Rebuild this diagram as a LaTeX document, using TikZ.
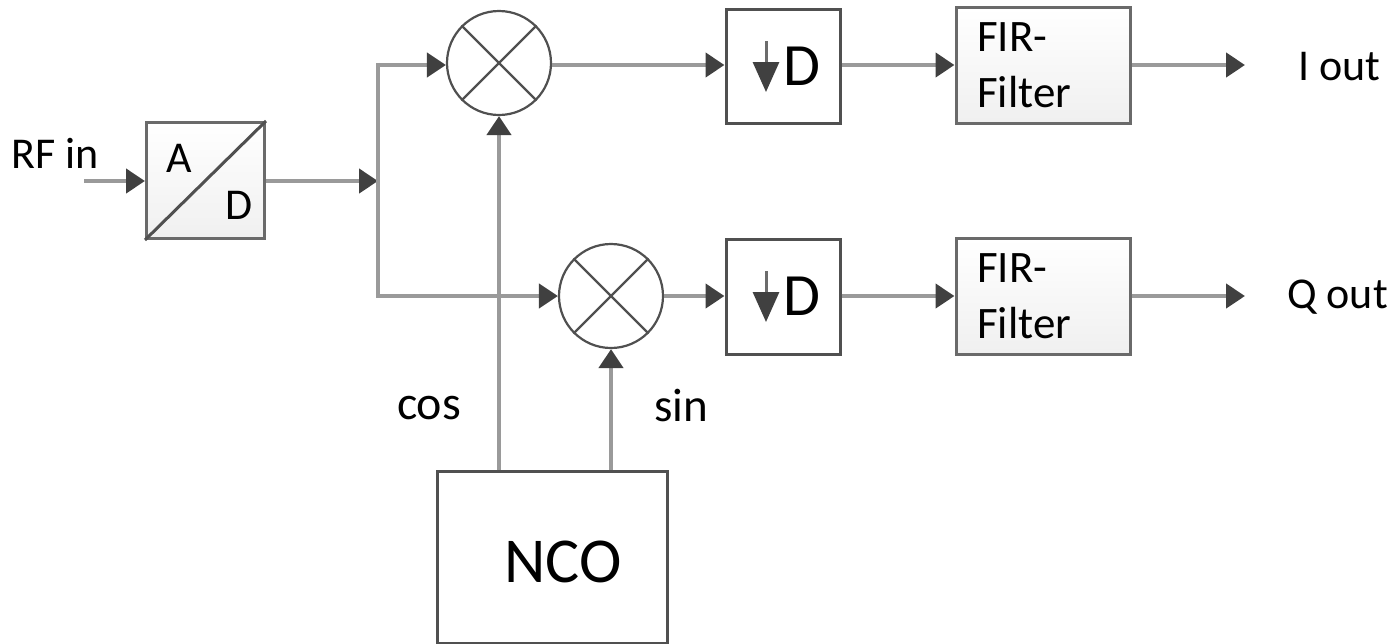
\documentclass[tikz,border=0pt]{standalone}
\usepackage{fontspec}
\setmainfont{Carlito}
\usetikzlibrary{arrows.meta,calc}
\definecolor{wire}{HTML}{9A9A9A}
\definecolor{edge}{HTML}{505050}
\definecolor{tip}{HTML}{404040}
\tikzset{
  wireline/.style={draw=wire,line width=4.2pt,-{Triangle[length=19pt,width=24pt,color=tip]}},
  plainwire/.style={draw=wire,line width=4.2pt},
  shaded box/.style={draw=edge!85!white,line width=3pt,top color=white,bottom color=black!6,minimum width=#1,minimum height=116pt,inner sep=0pt,anchor=north west},
  white box/.style={draw=edge,line width=3pt,fill=white,minimum width=#1,inner sep=0pt,anchor=north west},
  mixer/.style={circle,draw=edge,line width=2.2pt,minimum size=104pt,inner sep=0pt,fill=white},
  label/.style={font=\fontsize{44pt}{44pt}\selectfont,text=black,inner sep=0pt},
  x=1pt,y=-1pt
}
\begin{document}
\begin{tikzpicture}
\useasboundingbox (0,0) rectangle (1398,643);
% blocks
\node[shaded box=118pt] (ad) at (145,121) {};
\node[white box=114pt,minimum height=114pt] (d1) at (724.5,8) {};
\node[white box=114pt,minimum height=115pt] (d2) at (724.5,238) {};
\node[shaded box=174pt] (f1) at (954.5,6) {};
\node[shaded box=174pt] (f2) at (954.5,237) {};
\node[mixer] (m1) at (499,63) {};
\node[mixer] (m2) at (611,296) {};
\node[white box=230pt,minimum height=172pt] (nco) at (435.5,470) {};
% block contents
\draw[draw=edge,line width=3pt] (ad.south west) -- (ad.north east);
\foreach \m in {m1,m2}{
  \draw[draw=edge,line width=2.2pt] (\m.45) -- (\m.225);
  \draw[draw=edge,line width=2.2pt] (\m.135) -- (\m.315);
}
\node[label] (ta) at (179,158) {A};
\node[label] (tdd) at (239,205) {D};
\node[label,font=\fontsize{45pt}{45pt}\selectfont,anchor=west] (t1a) at (977,37) {FIR-};
\node[label,font=\fontsize{45pt}{45pt}\selectfont,anchor=west] (t1b) at (977,92) {Filter};
\node[label,font=\fontsize{45pt}{45pt}\selectfont,anchor=west] (t2a) at (977,268) {FIR-};
\node[label,font=\fontsize{45pt}{45pt}\selectfont,anchor=west] (t2b) at (977,323) {Filter};
\node[label,font=\fontsize{64pt}{64pt}\selectfont] (tn) at (563,562) {NCO};
\foreach \b/\y [count=\i] in {d1/65,d2/295}{
  \coordinate (da\i) at (766,\y-24);
  \coordinate (db\i) at (766,\y+27);
  \draw[draw=wire!70!black,line width=3pt,-{Triangle[length=30pt,width=26pt,color=tip]}] (da\i) -- (db\i);
  \node[label,font=\fontsize{60pt}{60pt}\selectfont] (dl\i) at (802,\y+1) {D};
}
% labels
\node[label,anchor=west] (rf) at (11,153) {RF in};
\node[label,anchor=west] (io) at (1298,67) {I out};
\node[label,anchor=west] (qo) at (1287,297) {Q out};
\node[label,font=\fontsize{48pt}{48pt}\selectfont] (cos) at (429,408) {cos};
\node[label,font=\fontsize{47pt}{47pt}\selectfont] (sin) at (681,405) {sin};
% connectors
\coordinate (rfs) at (84,181);
\coordinate (j) at (378,181);
\coordinate (top) at (378,65);
\coordinate (bot) at (378,296);
\coordinate (i1) at (1245,65);
\coordinate (q1) at (1245,296);
\draw[wireline] (rfs) -- (rfs -| ad.west);
\draw[wireline] (j -| ad.east) -- (j);
\draw[wireline] (bot) -- (bot -| m2.west);
\draw[wireline] (top) -- (top -| m1.west);
\draw[plainwire] ($(top)+(0,-2.1)$) -- ($(bot)+(0,2.1)$);
\draw[wireline] (nco.north -| m1.south) -- (m1.south);
\draw[wireline] (nco.north -| m2.south) -- (m2.south);
\draw[wireline] (m1.east |- top) -- (top -| d1.west);
\draw[wireline] (m2.east |- bot) -- (bot -| d2.west);
\draw[wireline] (d1.east |- top) -- (top -| f1.west);
\draw[wireline] (d2.east |- bot) -- (bot -| f2.west);
\draw[wireline] (f1.east |- top) -- (i1);
\draw[wireline] (f2.east |- bot) -- (q1);
\end{tikzpicture}
\end{document}
